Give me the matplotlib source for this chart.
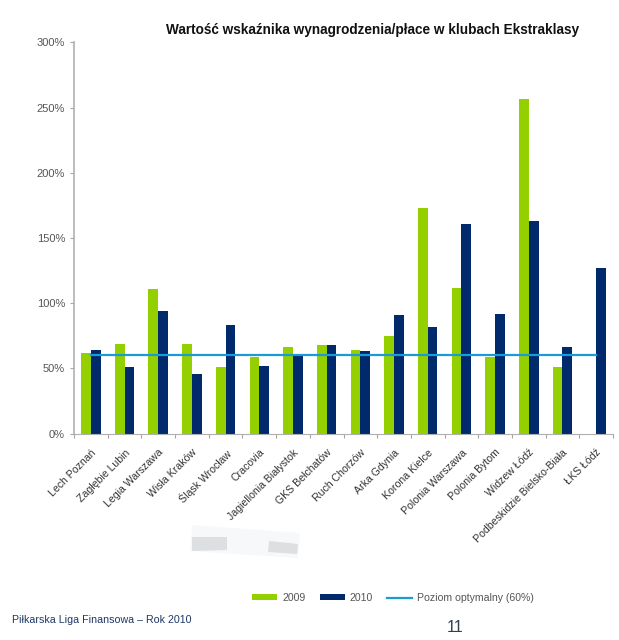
import numpy as np
from matplotlib import pyplot as plt
from matplotlib.patches import Polygon

plt.rcParams['font.family'] = ['Liberation Sans', 'DejaVu Sans']

clubs = ["Lech Poznań", "Zagłębie Lubin", "Legia Warszawa", "Wisła Kraków", "Śląsk Wrocław",
         "Cracovia", "Jagiellonia Białystok", "GKS Bełchatów", "Ruch Chorzów", "Arka Gdynia",
         "Korona Kielce", "Polonia Warszawa", "Polonia Bytom", "Widzew Łódź",
         "Podbeskidzie Bielsko-Biała", "ŁKS Łódź"]
values_2009 = [62, 69, 111, 69, 51, 59, 66, 68, 64, 75, 173, 112, 59, 257, 51, np.nan]
values_2010 = [64, 51, 94, 46, 83, 52, 60, 68, 63, 91, 82, 161, 92, 163, 66, 127]
optimal = [60] * 16
y_ticks = [0, 50, 100, 150, 200, 250, 300]

W, H = 619, 640
fig = plt.figure(figsize=(W / 100, H / 100), dpi=100)
ax = fig.add_axes([74 / W, 1 - 433.5 / H, 539 / W, 391 / H])

x = np.arange(16)
bar_w = 0.29
green = "#94d000"
navy = "#002a6c"
b09 = ax.bar(x - bar_w / 2, values_2009, bar_w, color=green, label="2009")
b10 = ax.bar(x + bar_w / 2, values_2010, bar_w, color=navy, label="2010")
line, = ax.plot(x, optimal, color="#1a9bd7", lw=1.6, label="Poziom optymalny (60%)")

ax.set_xlim(-0.5, 15.5)
ax.set_ylim(0, 300)
ax.set_yticks(y_ticks)
ax.set_yticklabels([f"{v}%" for v in y_ticks], fontsize=8, color="#555555")
ax.set_xticks(np.arange(17) - 0.5)
ax.set_xticklabels([])
ax.set_xticks(x, minor=True)
ax.set_xticklabels(clubs, minor=True, rotation=45, ha="right", rotation_mode="anchor",
                   fontsize=7.6, color="#333333")
ax.tick_params(axis="x", which="minor", length=0, pad=10)
ax.tick_params(axis="both", which="major", length=3, color="#a6a6a6", width=0.8)
ax.spines[["top", "right"]].set_visible(False)
ax.spines[["left", "bottom"]].set_color("#b0b0b0")
ax.spines["left"].set_linewidth(1.2)

# faint keyboard watermark under the labels
for pts, col in [
    ([(192, 525), (300, 533), (298, 558), (190, 551)], "#f6f8f9"),
    ([(192, 537), (227, 537), (227, 550), (192, 551)], "#dedfe0"),
    ([(269, 541), (298, 544), (297, 554), (268, 552)], "#dedfe0"),
]:
    fig.add_artist(Polygon([(px / W, 1 - py / H) for px, py in pts], closed=True,
                           transform=fig.transFigure, color=col, lw=0, zorder=-1))

fig.text(373 / W, 1 - 30 / H, "Wartość wskaźnika wynagrodzenia/płace w klubach Ekstraklasy",
         ha="center", va="center", fontsize=9.8, fontweight="bold", color="#111111")
fig.legend(handles=[b09, b10, line], loc="center", bbox_to_anchor=(393 / W, 1 - 598 / H), ncol=3,
           frameon=False, fontsize=7.6, labelcolor="#555555", handlelength=2.4, handleheight=0.5,
           columnspacing=1.35, handletextpad=0.45)
fig.text(12 / W, 1 - 620 / H, "Piłkarska Liga Finansowa – Rok 2010", ha="left", va="center",
         fontsize=7.7, color="#1f3864")
fig.text(455 / W, 1 - 627 / H, "11", ha="center", va="center", fontsize=11.5, color="#333f50")

fig.savefig("out.png", dpi=100)
